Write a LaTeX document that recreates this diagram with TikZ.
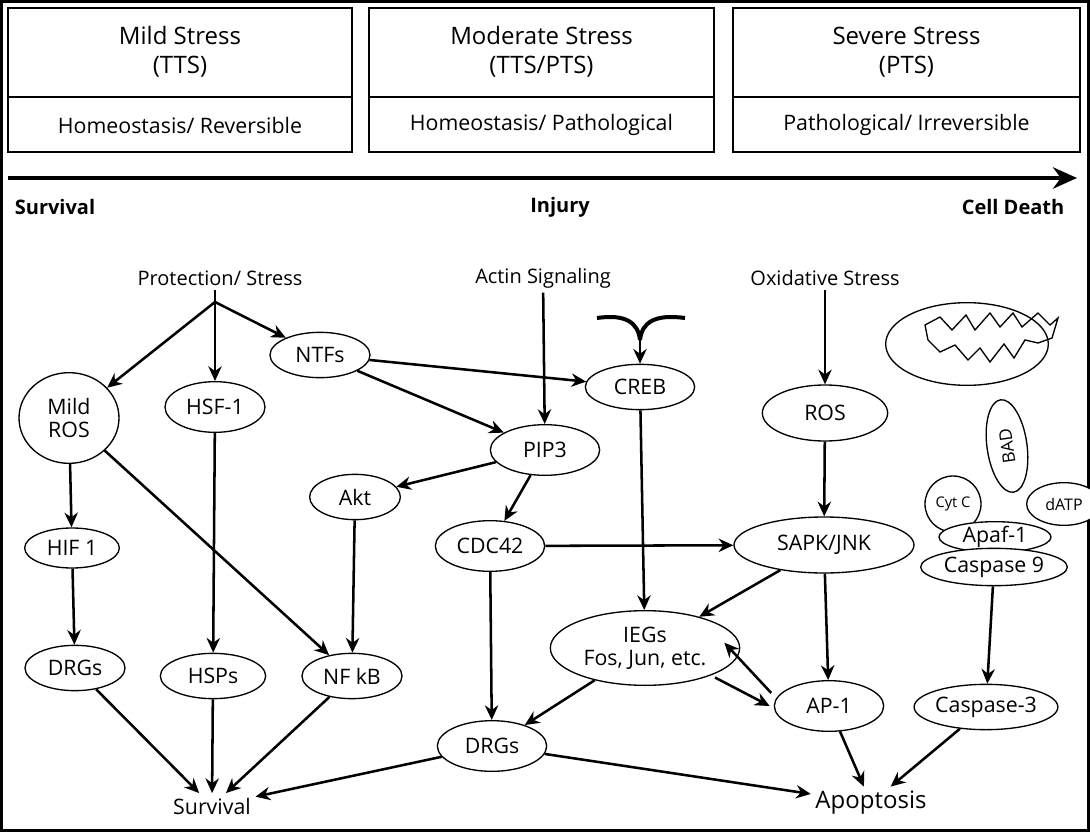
\documentclass[tikz,border=0pt]{standalone}
\usepackage{fontspec}
\setmainfont{Open Sans}
\usetikzlibrary{arrows.meta,shapes.geometric}
\tikzset{
  el/.style={draw,ellipse,line width=1pt,inner sep=0pt,font=\fontsize{16}{17}\selectfont},
  lab/.style={font=\fontsize{15}{17}\selectfont},
  ar/.style={line width=1.9pt,-{Stealth[length=11pt,width=10pt]}},
  box/.style={draw,line width=1.2pt}
}
\begin{document}
\begin{tikzpicture}[x=0.75pt,y=-0.75pt]
\useasboundingbox (0,0) rectangle (1090,832);
\draw[line width=2.5pt] (1,1) rectangle (1089,831);

% stress boxes
\foreach \xa/\xb/\ta/\tb/\tc in {8/352/Mild Stress/(TTS)/{Homeostasis/ Reversible},
  369/714/Moderate Stress/{(TTS/PTS)}/{Homeostasis/ Pathological},
  733/1080/Severe Stress/(PTS)/{Pathological/ Irreversible}}{
  \draw[box] (\xa,8) rectangle (\xb,152);
  \draw[box] (\xa,97) -- (\xb,97);
  \node[font=\fontsize{18}{22}\selectfont,align=center] at ({(\xa+\xb)/2},52) {\ta\\\tb};
  \node[font=\fontsize{16}{17}\selectfont] at ({(\xa+\xb)/2},125) {\tc};
}
\coordinate (s0) at (8,178);
\coordinate (s1) at (1077,178);
\draw[line width=3.5pt,-{Stealth[length=18pt,width=16pt]}] (s0) -- (s1);
\node[lab,font=\bfseries\fontsize{15}{17}\selectfont] (surv) at (55,207) {Survival};
\node[lab,font=\bfseries\fontsize{15}{17}\selectfont] (inj) at (560,207) {Injury};
\node[lab,font=\bfseries\fontsize{15}{17}\selectfont] (death) at (1013,207) {Cell Death};

% headings
\node[lab] (prot) at (220,278) {Protection/ Stress};
\node[lab] (actin) at (543,278) {Actin Signaling};
\node[lab] (oxid) at (825,278) {Oxidative Stress};
\coordinate (br) at (215,302);

% nodes
\node[el,minimum width=75pt,minimum height=68pt,align=center] (mros) at (69,418) {Mild\\ROS};
\node[el,minimum width=75pt,minimum height=38pt] (hsf) at (215,407) {HSF-1};
\node[el,minimum width=75pt,minimum height=34pt] (ntf) at (320,355) {NTFs};
\node[el,minimum width=82pt,minimum height=34pt] (creb) at (640,387) {CREB};
\node[el,minimum width=82pt,minimum height=38pt] (pip) at (545,450) {PIP3};
\node[el,minimum width=94pt,minimum height=42pt] (ros) at (825,413) {ROS};
\node[el,minimum width=68pt,minimum height=34pt] (akt) at (355,497) {Akt};
\node[el,minimum width=82pt,minimum height=38pt] (cdc) at (490,546) {CDC42};
\node[el,minimum width=135pt,minimum height=42pt] (sapk) at (824,545) {SAPK/JNK};
\node[el,minimum width=71pt,minimum height=30pt] (hif) at (72,548) {HIF 1};
\node[el,minimum width=75pt,minimum height=34pt] (drg1) at (75,668) {DRGs};
\node[el,minimum width=79pt,minimum height=34pt] (hsp) at (213,676) {HSPs};
\node[el,minimum width=75pt,minimum height=34pt] (nfkb) at (352,676) {NF kB};
\node[el,minimum width=142pt,minimum height=56pt,align=center] (ieg) at (645,648) {IEGs\\Fos, Jun, etc.};
\node[el,minimum width=82pt,minimum height=38pt] (ap1) at (829,706) {AP-1};
\node[el,minimum width=105pt,minimum height=34pt] (casp3) at (986,707) {Caspase-3};
\node[el,minimum width=82pt,minimum height=38pt] (drg2) at (492,746) {DRGs};
\node[font=\fontsize{16}{17}\selectfont] (survo) at (212,806) {Survival};
\node[font=\fontsize{18}{19}\selectfont] (apop) at (871,803) {Apoptosis};

% mitochondrion
\node[el,minimum width=122pt,minimum height=62pt] (mito) at (967,344) {};
\draw[line width=1pt] (925,325) -- (940,317) -- (952,330) -- (966,315) -- (975,330) -- (990,313) -- (1000,327) -- (1013,313) -- (1022,327) -- (1038,313) -- (1050,325) -- (1058,318) -- (1052,338)
  -- (1038,343) -- (1025,340) -- (1014,358) -- (1004,344) -- (990,362) -- (980,348) -- (968,360) -- (955,345) -- (940,352) -- (928,340) -- cycle;
\node[el,minimum width=30pt,minimum height=70pt,rotate=8,fill=white,font=\fontsize{13}{14}\selectfont] (bad) at (1007,446) {\rotatebox{90}{BAD}};
\node[el,circle,minimum size=42pt,font=\fontsize{11}{12}\selectfont,fill=white] (cytc) at (953,504) {Cyt C};
\node[el,minimum width=56pt,minimum height=32pt,font=\fontsize{12}{13}\selectfont,fill=white] (datp) at (1064,504) {dATP};
\node[el,minimum width=84pt,minimum height=23pt,fill=white] (apaf) at (995,537) {Apaf-1};
\node[el,minimum width=110pt,minimum height=28pt,fill=white] (casp9) at (994,567) {Caspase 9};

% CREB input symbol
\coordinate (cr) at (640,340);
\draw[line width=3pt] (597,318) .. controls (625,314) and (638,322) .. (cr);
\draw[line width=3pt] (685,318) .. controls (655,314) and (642,322) .. (cr);
\draw[ar] (cr) -- (creb);

% connectors
\draw[line width=1.9pt] (prot) ++(-5,12) -- (br);
\draw[ar] (br) -- (mros);
\draw[ar] (br) -- (hsf);
\draw[ar] (br) -- (ntf);
\draw[ar] (ntf) -- (creb);
\draw[ar] (ntf) -- (pip);
\draw[ar] (actin) -- (pip);
\draw[ar] (pip) -- (akt);
\draw[ar] (pip) -- (cdc);
\draw[ar] (creb) -- (ieg);
\draw[ar] (oxid) -- (ros);
\draw[ar] (ros) -- (sapk);
\draw[ar] (cdc) -- (sapk);
\draw[ar] (cdc) -- (drg2);
\draw[ar] (sapk) -- (ieg);
\draw[ar] (sapk) -- (ap1);
\draw[ar] (mros) -- (hif);
\draw[ar] (mros) -- (nfkb);
\draw[ar] (hif) -- (drg1);
\draw[ar] (hsf) -- (hsp);
\draw[ar] (akt) -- (nfkb);
\draw[ar] ([xshift=-14pt,yshift=-4pt]ap1.north west) -- ([xshift=-12pt,yshift=4pt]ieg.east);
\draw[ar] ([xshift=2pt,yshift=-2pt]ieg.south east) -- ([xshift=-3pt]ap1.west);
\draw[ar] (ieg) -- (drg2);
\draw[ar] (drg1) -- (survo);
\draw[ar] (hsp) -- (survo);
\draw[ar] (nfkb) -- (survo);
\draw[ar] (drg2) -- (survo);
\draw[ar] (drg2) -- (apop);
\draw[ar] (ap1) -- (apop);
\draw[ar] (casp3) -- (apop);
\draw[ar] (casp9) -- (casp3);
\end{tikzpicture}
\end{document}
